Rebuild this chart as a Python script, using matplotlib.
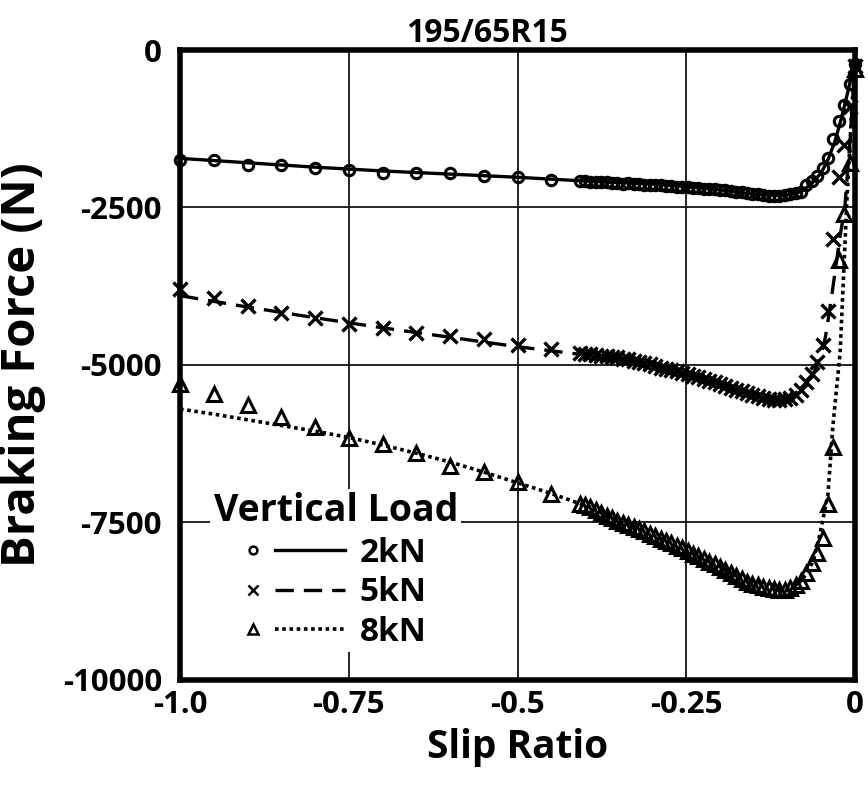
import matplotlib
matplotlib.use('Agg')
import matplotlib.pyplot as plt
from matplotlib.legend_handler import HandlerBase
from matplotlib.lines import Line2D

plt.rcParams['font.family'] = ['Open Sans', 'DejaVu Sans']
plt.rcParams['font.weight'] = 'bold'
plt.rcParams['axes.unicode_minus'] = False

# measured points: sparse part (every 0.05) and dense part near the peak
slip_coarse = [-1.0, -0.95, -0.9, -0.85, -0.8, -0.75, -0.7, -0.65, -0.6, -0.55, -0.5, -0.45]
slip_dense = [-0.408, -0.400, -0.392, -0.384, -0.376, -0.368, -0.360, -0.352, -0.344, -0.336,
              -0.328, -0.320, -0.312, -0.304, -0.296, -0.288, -0.280, -0.272, -0.264, -0.256,
              -0.248, -0.240, -0.232, -0.224, -0.216, -0.208, -0.200, -0.192, -0.184, -0.176,
              -0.168, -0.160, -0.152, -0.144, -0.136, -0.128, -0.120, -0.112, -0.104, -0.096,
              -0.088, -0.080, -0.072, -0.064, -0.056, -0.048, -0.040, -0.032, -0.024, -0.016,
              -0.008, 0.000]

meas_2kn_coarse = [-1740, -1750, -1830, -1830, -1880, -1910, -1960, -1960, -1960, -2000, -2020, -2070]
meas_2kn_dense = [-2080, -2080, -2090, -2090, -2100, -2100, -2110, -2110, -2120, -2110,
                  -2130, -2130, -2140, -2140, -2150, -2150, -2160, -2160, -2170, -2170,
                  -2180, -2190, -2190, -2200, -2210, -2210, -2220, -2230, -2240, -2250,
                  -2260, -2270, -2280, -2290, -2300, -2310, -2310, -2310, -2300, -2290,
                  -2270, -2250, -2150, -2080, -2000, -1880, -1720, -1420, -1120, -870,
                  -540, -230]

meas_5kn_coarse = [-3800, -3930, -4060, -4170, -4250, -4350, -4410, -4490, -4540, -4590, -4680, -4740]
meas_5kn_dense = [-4810, -4820, -4830, -4840, -4850, -4860, -4870, -4880, -4900, -4910,
                  -4930, -4950, -4970, -4990, -5010, -5040, -5060, -5080, -5100, -5120,
                  -5140, -5170, -5190, -5220, -5250, -5270, -5300, -5330, -5360, -5390,
                  -5420, -5450, -5470, -5500, -5520, -5540, -5550, -5550, -5540, -5520,
                  -5470, -5390, -5270, -5150, -4950, -4690, -4150, -3000, -2020, -1510,
                  -900, -250]

meas_8kn_coarse = [-5300, -5460, -5640, -5830, -5990, -6160, -6260, -6400, -6600, -6700, -6860, -7050]
meas_8kn_dense = [-7210, -7230, -7260, -7300, -7350, -7390, -7430, -7470, -7510, -7540,
                  -7570, -7600, -7640, -7680, -7720, -7760, -7800, -7830, -7870, -7910,
                  -7960, -8000, -8040, -8080, -8120, -8160, -8200, -8250, -8300, -8350,
                  -8390, -8440, -8470, -8500, -8520, -8540, -8560, -8570, -8570, -8540,
                  -8500, -8430, -8300, -8150, -7980, -7750, -7200, -6300, -3340, -2600,
                  -1800, -300]

# model curves
model_2kn_x = [-1.0, -0.9, -0.8, -0.7, -0.6, -0.5, -0.4, -0.3, -0.25, -0.2, -0.15, -0.12, -0.1,
               -0.08, -0.065, -0.05, -0.04, -0.03, -0.02, -0.01, 0.0]
model_2kn_y = [-1720, -1790, -1860, -1920, -1970, -2020, -2080, -2130, -2170, -2220, -2290, -2310, -2300,
               -2250, -2130, -1950, -1740, -1460, -1080, -640, -150]

model_5kn_x = [-1.0, -0.9, -0.8, -0.7, -0.6, -0.5, -0.4, -0.3, -0.25, -0.2, -0.15, -0.12, -0.1,
               -0.08, -0.06, -0.05, -0.044, -0.04, -0.033, -0.022, -0.015, -0.01, -0.007, -0.003, 0.0]
model_5kn_y = [-3900, -4080, -4250, -4410, -4560, -4710, -4840, -5000, -5120, -5290, -5470, -5540, -5540,
               -5420, -5100, -4830, -4570, -4300, -3790, -2950, -2500, -1800, -1400, -700, -150]

model_8kn_x = [-1.0, -0.95, -0.9, -0.85, -0.8, -0.75, -0.7, -0.65, -0.6, -0.55, -0.5, -0.45, -0.4,
               -0.35, -0.3, -0.25, -0.2, -0.15, -0.12, -0.1, -0.09, -0.077, -0.062, -0.052, -0.04,
               -0.033, -0.022, -0.012, -0.005, 0.0]
model_8kn_y = [-5700, -5780, -5870, -5960, -6050, -6150, -6270, -6400, -6540, -6700, -6870, -7040, -7230,
               -7450, -7690, -7950, -8200, -8430, -8540, -8570, -8540, -8390, -8120, -7690, -7050,
               -6000, -4800, -2400, -1000, -150]

loads = ['2kN', '5kN', '8kN']
x_ticks = [-1.0, -0.75, -0.5, -0.25, 0]
x_ticklabels = ['-1.0', '-0.75', '-0.5', '-0.25', '0']
y_ticks = [0, -2500, -5000, -7500, -10000]


class MarkerThenLine(HandlerBase):
    # small marker on the left, line sample on the right
    def create_artists(self, legend, orig_handle, xdescent, ydescent, width, height, fontsize, trans):
        mk, ln = orig_handle
        y = height / 2 - ydescent
        m = Line2D([-xdescent + 0.08 * width], [y])
        m.update_from(mk)
        m.set_markersize(mk.get_markersize() * 0.75)
        m.set_markeredgewidth(1.8)
        m.set_linestyle('none')
        l = Line2D([-xdescent + 0.3 * width, -xdescent + width], [y, y])
        l.update_from(ln)
        l.set_marker('none')
        for a in (m, l):
            a.set_transform(trans)
        return [m, l]


fig = plt.figure(figsize=(8.68, 7.85), dpi=100)
ax = fig.add_axes([0.2074, 0.1338, 0.7776, 0.8025])

mk_style = dict(linestyle='none', color='black', mfc='none', clip_on=False, zorder=4)
m2, = ax.plot(slip_coarse + slip_dense, meas_2kn_coarse + meas_2kn_dense, marker='o', ms=7.5, mew=2.2, **mk_style)
m5, = ax.plot(slip_coarse + slip_dense, meas_5kn_coarse + meas_5kn_dense, marker='x', ms=10, mew=2.4, **mk_style)
m8, = ax.plot(slip_coarse + slip_dense, meas_8kn_coarse + meas_8kn_dense, marker='^', ms=9.5, mew=2.2, **mk_style)

l2, = ax.plot(model_2kn_x, model_2kn_y, color='black', lw=2.4, ls='-', zorder=3)
l5, = ax.plot(model_5kn_x, model_5kn_y, color='black', lw=2.4, ls=(0, (5.5, 3)), zorder=3)
l8, = ax.plot(model_8kn_x, model_8kn_y, color='black', lw=2.6, ls=(0, (1, 1)), zorder=3)

ax.set_xlim(-1.0, 0)
ax.set_ylim(-10000, 0)
ax.set_xticks(x_ticks)
ax.set_xticklabels(x_ticklabels)
ax.set_yticks(y_ticks)
ax.grid(True, color='black', lw=1.2)
ax.set_axisbelow(True)
ax.tick_params(length=0, labelsize=22.5, pad=7)
ax.tick_params(axis='y', pad=13)
for s in ax.spines.values():
    s.set_linewidth(4)
    s.set_zorder(5)

ax.set_title('195/65R15', fontsize=23, fontweight='bold', pad=4, x=0.455)
ax.set_xlabel('Slip Ratio', fontsize=28, fontweight='bold', labelpad=6)
ax.set_ylabel('Braking Force (N)', fontsize=34, fontweight='bold', labelpad=0)
ax.yaxis.set_label_coords(-0.198, 0.5)

leg = ax.legend([(m2, l2), (m5, l5), (m8, l8)], loads,
                handler_map={tuple: MarkerThenLine()},
                title='Vertical Load', loc='upper left', bbox_to_anchor=(0.02, 0.33),
                fontsize=24, title_fontproperties={'size': 27, 'weight': 'bold'},
                handlelength=3.0, handletextpad=0.45, labelspacing=0.2,
                borderpad=0.1, frameon=True, framealpha=1, edgecolor='none', fancybox=False)
leg.set_zorder(6)

fig.savefig('out.png', dpi=100)
